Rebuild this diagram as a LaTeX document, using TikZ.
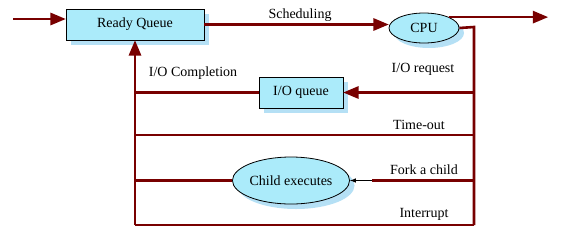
\documentclass[tikz,border=0pt]{standalone}
\usepackage{fontspec}
\setmainfont{Liberation Serif}
\usetikzlibrary{arrows,shadows,shapes.geometric}
\definecolor{c780000}{rgb}{0.47,0.,0.}
\definecolor{caaeafa}{rgb}{0.67,0.92,0.98}
\definecolor{cb4e0f6}{rgb}{0.71,0.88,0.96}
\begin{document}
\begin{tikzpicture}[line cap=butt,line join=miter,>=triangle 45,x=1pt,y=-1pt,
  every node/.style={font=\fontsize{14}{16}\selectfont},
  queue/.style={rectangle,draw=black,line width=0.8pt,fill=caaeafa,inner sep=0pt,
    drop shadow={fill=cb4e0f6,opacity=1,shadow xshift=5pt,shadow yshift=-5pt}},
  proc/.style={ellipse,draw=black,line width=0.8pt,fill=caaeafa,inner sep=0pt,
    drop shadow={fill=cb4e0f6,opacity=1,shadow xshift=5pt,shadow yshift=-5pt}},
  flow/.style={line width=2.6pt,color=c780000}]
\useasboundingbox (0,0) rectangle (567,250);
\node[queue,minimum width=138pt,minimum height=31pt] (ready) at (135,24.5) {Ready Queue};
\node[proc,minimum width=70pt,minimum height=30pt] (cpu) at (424,28) {CPU};
\node[queue,minimum width=84pt,minimum height=31pt] (ioq) at (301,92.5) {I/O queue};
\node[proc,minimum width=116pt,minimum height=47pt] (child) at (291,180.5) {Child executes};
\coordinate (in) at (13,19);
\coordinate (out) at (548,17);
\coordinate (rtop) at (474,27);
\coordinate (rbot) at (474,225);
\coordinate (lbot) at (135,225);
\coordinate (timeout) at (474,135);
\coordinate (fork) at (474,180.5);
\draw [flow,->] (in) -- (in -| ready.west);
\draw [flow,->] (ready.east) -- (ready.east -| cpu.west);
\draw [flow,->] (cpu.north east) -- (cpu.north east -| out);
\draw [flow] (cpu.east) -- (rtop) -- (rbot);
\draw [flow,->] (ioq.east -| rtop) -- (ioq.east);
\draw [flow] (ioq.west) -- (ioq.west -| lbot);
\draw [flow] (timeout) -- (timeout -| lbot);
\draw [flow] (fork) -- ([xshift=22pt]child.east);
\draw [-latex,line width=1pt] ([xshift=22pt]child.east) -- (child.east);
\draw [flow] (child.west) -- (child.west -| lbot);
\draw [flow] (rbot) -- (lbot);
\draw [flow,->] (lbot) -- (ready.south);
\node (sched) at (300,15) {Scheduling};
\node (ioreq) at (423,69) {I/O request};
\node (iocomp) at (193,73) {I/O Completion};
\node (tmout) at (419,125) {Time-out};
\node (forkc) at (424,170) {Fork a child};
\node (intr) at (424,214.5) {Interrupt};
\end{tikzpicture}
\end{document}
